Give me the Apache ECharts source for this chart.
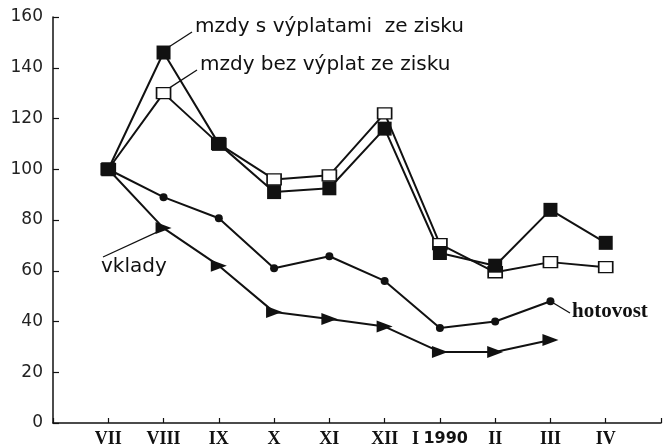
<!DOCTYPE html>
<html><head><meta charset="utf-8">
<script src="https://cdn.jsdelivr.net/npm/echarts@6/dist/echarts.min.js"></script>
<style>html,body{margin:0;padding:0;background:#fff}#c{width:664px;height:448px}</style>
</head><body><div id="c"></div>
<script>
const months = ['VII','VIII','IX','X','XI','XII','I 1990','II','III','IV'];
const yTicks = [0,20,40,60,80,100,120,140,160];
const mzdyS = [100,146,110,91,92.5,116,67,62,84,71];
const mzdyBez = [100,130,110,96,97.6,122,70.5,59.4,63.4,61.4];
const hotovost = [100,89,80.7,61,65.7,56,37.4,40,48];
const vklady = [100,76.8,62,43.7,41,38,28,28,32.7];

const chart = echarts.init(document.getElementById('c'), null, {renderer:'canvas'});
const toData = (arr, hideFirst) => arr.map((v,i)=> (hideFirst && i===0) ? {value:[i,v], symbol:'none'} : [i,v]);
const black = '#111';
const option = {
  backgroundColor:'#fff',
  animation:false,
  grid:{left:53, right:2, top:17, bottom:25, containLabel:false},
  xAxis:{type:'value', min:-1, max:10, interval:1,
    axisLine:{show:true, onZero:false, lineStyle:{color:black, width:1.5}},
    axisTick:{show:true, inside:true, length:5, lineStyle:{color:black, width:1.2}},
    splitLine:{show:false},
    axisLabel:{margin:7, color:black, fontFamily:'Liberation Serif', fontSize:18, fontWeight:'bold',
      formatter:v=>{const m = months[v]; if(!m) return ''; if(m.indexOf('1990')>=0) return '{r|I} {n|1990}'; return m;},
      rich:{r:{fontFamily:'Liberation Serif', fontSize:18, fontWeight:'bold', color:black}, n:{fontFamily:'DejaVu Sans', fontSize:16, color:black}}
    }
  },
  yAxis:{type:'value', min:0, max:160, interval:20,
    axisLine:{show:true, onZero:false, lineStyle:{color:black, width:1.5}},
    axisTick:{show:true, inside:true, length:6, lineStyle:{color:black, width:1.2}},
    splitLine:{show:false},
    axisLabel:{margin:10, color:'#222', fontFamily:'DejaVu Sans', fontSize:17,
      formatter:v=> yTicks.indexOf(v)>=0 ? String(v) : ''}
  },
  series:[
    {name:'vklady', type:'line', data:toData(vklady,true), symbol:'triangle', symbolRotate:-90, symbolSize:[12,16],
      lineStyle:{color:black,width:2}, itemStyle:{color:black}},
    {name:'hotovost', type:'line', data:toData(hotovost,true), symbol:'circle', symbolSize:8,
      lineStyle:{color:black,width:2}, itemStyle:{color:black}},
    {name:'mzdy bez výplat ze zisku', type:'line', data:toData(mzdyBez,false), symbol:'rect', symbolSize:[14,11],
      lineStyle:{color:black,width:2}, itemStyle:{color:'#fff', borderColor:black, borderWidth:1.5}},
    {name:'mzdy s výplatami ze zisku', type:'line', data:toData(mzdyS,false), symbol:'rect', symbolSize:14,
      lineStyle:{color:black,width:2}, itemStyle:{color:black}}
  ]
};
chart.setOption(option);
const px = (i,v)=>chart.convertToPixel({gridIndex:0},[i,v]);
const pS = px(1,mzdyS[1]), pB = px(1,mzdyBez[1]), pV = px(1,vklady[1]), pH = px(8,hotovost[8]);
const txt = {fill:black, fontFamily:'DejaVu Sans', fontSize:20, textVerticalAlign:'middle'};
chart.setOption({graphic:[
  {type:'line', shape:{x1:pS[0]+6,y1:pS[1]-6,x2:192,y2:32}, style:{stroke:black,lineWidth:1.3}},
  {type:'text', left:195, top:17, style:Object.assign({text:'mzdy s výplatami  ze zisku'},txt)},
  {type:'line', shape:{x1:pB[0]+4,y1:pB[1]-4,x2:197,y2:70}, style:{stroke:black,lineWidth:1.3}},
  {type:'text', left:200, top:55, style:Object.assign({text:'mzdy bez výplat ze zisku'},txt)},
  {type:'line', shape:{x1:pV[0],y1:pV[1]+1,x2:103,y2:257}, style:{stroke:black,lineWidth:1.3}},
  {type:'text', left:101, top:257, style:Object.assign({text:'vklady'},txt)},
  {type:'line', shape:{x1:pH[0],y1:pH[1],x2:570,y2:313}, style:{stroke:black,lineWidth:1.3}},
  {type:'text', left:572, top:301, style:{text:'hotovost', fill:black, fontFamily:'Liberation Serif', fontSize:21, fontWeight:'bold'}}
]});
</script></body></html>
